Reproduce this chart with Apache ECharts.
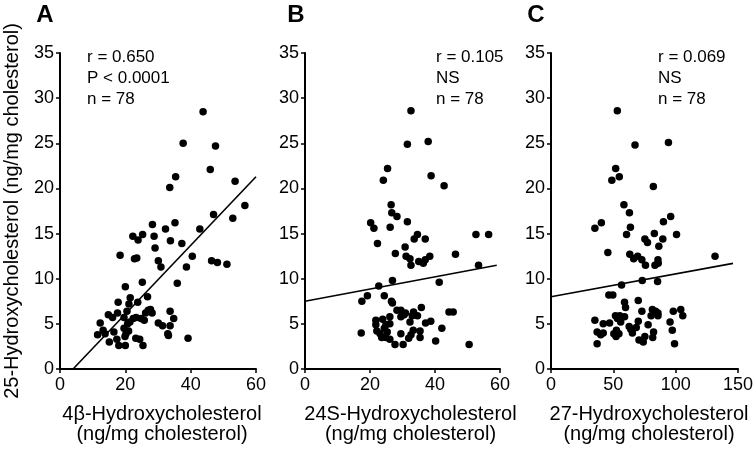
<!DOCTYPE html>
<html><head><meta charset="utf-8">
<script src="https://cdn.jsdelivr.net/npm/echarts@6/dist/echarts.min.js"></script>
<style>html,body{margin:0;padding:0;background:#fff}#c{width:756px;height:450px}</style>
</head><body><div id="c"></div>
<script>
// Panel A: 4β-Hydroxycholesterol vs 25-Hydroxycholesterol
const aX = [43.8,37.7,47.6,46.0,35.4,33.6,53.6,56.6,47.0,52.9,28.3,32.3,35.2,42.8,22.3,23.9,25.3,28.8,33.8,37.3,29.1,18.4,22.8,23.5,30.1,40.5,30.9,38.7,46.4,48.2,51.1,35.9,25.2,20.0,21.5,17.8,23.8,26.8,21.1,20.5,14.8,16.1,17.6,19.6,23.3,24.8,26.2,27.7,28.2,25.8,21.4,20.7,12.3,33.7,34.8,30.1,31.4,33.7,19.6,13.2,11.5,13.8,20.2,33.0,33.2,19.9,17.4,15.1,23.2,24.4,39.2,18.0,20.0,25.4,22.4,21.0,27.0,16.5];
const aY = [28.5,25.0,24.7,22.1,21.3,20.1,20.8,18.1,17.1,16.7,16.0,15.5,16.2,15.5,14.7,14.3,14.9,14.7,14.2,13.9,13.4,12.6,12.2,12.3,12.0,12.5,11.3,11.3,12.0,11.8,11.6,9.5,9.6,9.1,7.9,7.4,7.4,8.0,7.2,6.4,6.0,5.7,6.2,5.7,5.7,5.6,6.2,6.6,6.2,5.4,5.2,5.0,5.1,6.4,5.6,5.1,4.8,4.8,4.5,4.3,3.8,3.9,3.9,3.9,3.7,3.6,3.3,3.0,3.4,3.3,3.4,2.6,2.6,2.6,5.6,4.2,6.5,4.1];
// Panel B: 24S-Hydroxycholesterol
const bX = [32.6,31.5,37.9,25.4,24.1,38.8,42.8,26.5,26.7,28.3,31.5,20.2,21.2,26.2,22.3,34.6,33.6,37.0,52.6,56.5,30.8,27.8,31.1,32.3,32.6,35.0,36.4,37.0,38.4,46.3,53.4,41.3,26.9,22.7,19.2,17.5,24.4,26.6,26.9,28.3,29.5,30.9,29.5,33.4,34.6,35.8,33.0,44.3,45.6,21.8,23.9,26.1,21.8,24.9,26.1,32.3,37.1,38.7,22.1,24.4,25.3,33.3,35.4,42.1,17.3,29.5,32.6,23.6,24.9,26.1,31.9,35.4,40.2,27.7,30.2,50.5,23.1,30.5];
const bY = [28.6,24.9,25.2,22.2,20.9,21.4,20.3,18.2,17.3,16.9,16.3,16.2,15.6,15.7,13.9,14.9,14.4,14.4,14.9,14.9,13.5,12.8,12.5,12.2,11.5,11.9,11.7,12.1,12.5,12.7,11.5,9.6,9.8,9.2,8.1,7.5,8.1,7.5,7.3,6.5,6.5,6.2,5.8,6.3,5.9,6.8,5.9,6.3,6.3,5.4,5.5,5.8,4.9,4.9,5.0,5.2,5.1,5.3,4.2,4.5,4.1,4.3,4.2,4.5,4.0,3.9,3.8,3.5,3.5,3.3,3.4,3.5,3.1,2.7,2.7,2.7,3.9,6.0];
// Panel C: 27-Hydroxycholesterol
const cX = [53.2,67.4,94.2,51.9,54.8,48.8,82.1,58.5,62.9,96.0,90.2,35.2,40.4,63.7,60.6,82.9,100.7,75.3,77.4,89.7,86.5,45.6,63.2,66.3,69.5,72.9,75.8,85.8,83.4,86.0,131.6,73.2,85.5,56.6,46.4,49.6,70.0,59.0,59.8,72.9,81.3,83.9,85.8,98.1,104.1,105.7,85.8,80.3,51.7,53.3,59.0,35.2,47.0,55.9,70.0,95.5,41.9,37.0,39.9,41.9,52.5,54.5,62.7,68.4,77.9,82.3,97.3,65.3,52.2,81.6,75.3,70.6,74.0,37.0,99.1,50.4,55.2,64.0];
const cY = [28.6,24.8,25.1,22.2,21.3,20.9,20.2,18.2,17.3,16.9,16.3,15.6,16.2,15.7,14.9,15.0,14.9,14.4,14.0,14.4,13.6,12.9,12.7,12.2,12.5,12.1,11.5,12.1,11.5,11.7,12.5,9.8,9.7,9.3,8.2,8.2,7.6,7.4,6.8,6.4,6.6,6.4,6.2,6.4,6.6,5.9,5.9,5.9,5.9,5.6,5.8,5.4,5.1,5.2,5.3,5.2,5.0,4.1,3.8,4.0,4.3,3.9,4.7,4.6,4.9,4.1,4.3,4.0,3.6,3.5,3.6,3.2,3.0,2.8,2.8,3.9,5.9,4.4];
// Regression line endpoints
const aLine = [[4.0,0],[60,21.3]];
const bLine = [[0,7.5],[59,11.5]];
const cLine = [[0,8.0],[146,11.7]];
// Text
const panelLetters = ['A','B','C'];
const annotations = [['r = 0.650','P < 0.0001','n = 78'],['r = 0.105','NS','n = 78'],['r = 0.069','NS','n = 78']];
const xNames = ['4β-Hydroxycholesterol','24S-Hydroxycholesterol','27-Hydroxycholesterol'];
const yName = '25-Hydroxycholesterol (ng/mg cholesterol)';
const xMax = [60,60,150];
const xInterval = [20,20,50];
const yMax = 35, yInterval = 5;

const FONT = '"Liberation Sans", Arial, sans-serif';
const grids = [
  {left:60, top:53, width:196, height:316},
  {left:305, top:53, width:195, height:316},
  {left:551, top:53, width:191, height:316}
];
const namePad = [8,16,9];
const axisLineStyle = {color:'#000', width:2};
const xAxes = grids.map((g,i)=>({
  type:'value', gridIndex:i, min:0, max:xMax[i], interval:xInterval[i],
  name: xNames[i] + '\n(ng/mg cholesterol)', nameLocation:'middle', nameGap:35,
  nameTextStyle:{fontFamily:FONT, fontSize:20, color:'#000', lineHeight:20, padding:[0,0,0,namePad[i]]},
  axisLine:{show:true, onZero:false, lineStyle:axisLineStyle},
  axisTick:{show:true, inside:false, length:4, lineStyle:{color:'#000', width:1.5}},
  axisLabel:{fontFamily:FONT, fontSize:18, color:'#000', margin:7},
  splitLine:{show:false}
}));
const yAxes = grids.map((g,i)=>({
  type:'value', gridIndex:i, min:0, max:yMax, interval:yInterval,
  name: i===0 ? yName : '', nameLocation:'middle', nameGap:38, nameRotate:90,
  nameTextStyle:{fontFamily:FONT, fontSize:20, color:'#000'},
  axisLine:{show:true, onZero:false, lineStyle:axisLineStyle},
  axisTick:{show:true, inside:false, length:4, lineStyle:{color:'#000', width:1.5}},
  axisLabel:{fontFamily:FONT, fontSize:18, color:'#000', margin:6},
  splitLine:{show:false}
}));
const pts = [[aX,aY],[bX,bY],[cX,cY]].map(([xs,ys])=>xs.map((x,k)=>[x,ys[k]]));
const lines = [aLine,bLine,cLine];
const series = [];
pts.forEach((d,i)=>{
  series.push({type:'scatter', xAxisIndex:i, yAxisIndex:i, data:d, symbol:'circle', symbolSize:7.5,
    itemStyle:{color:'#000', opacity:1}, silent:true, z:3});
  series.push({type:'line', xAxisIndex:i, yAxisIndex:i, data:lines[i], symbol:'none',
    lineStyle:{color:'#000', width:1.6}, silent:true, z:2});
});
const letterPos = [45, 296, 536];
const annPos = [87, 436, 658];
const graphic = [];
panelLetters.forEach((t,i)=>{
  graphic.push({type:'text', x:letterPos[i], y:15, style:{text:t, fontFamily:FONT, fontWeight:'bold', fontSize:24, fill:'#000', textAlign:'center', textVerticalAlign:'middle'}});
  graphic.push({type:'text', x:annPos[i], y:46.5, style:{text:annotations[i].join('\n'), fontFamily:FONT, fontSize:17, lineHeight:21, fill:'#000', textAlign:'left', textVerticalAlign:'top'}});
});
const chart = echarts.init(document.getElementById('c'), null, {renderer:'canvas'});
chart.setOption({
  animation:false, backgroundColor:'#fff',
  grid: grids, xAxis: xAxes, yAxis: yAxes, series: series, graphic: graphic
});
</script>
</body></html>
